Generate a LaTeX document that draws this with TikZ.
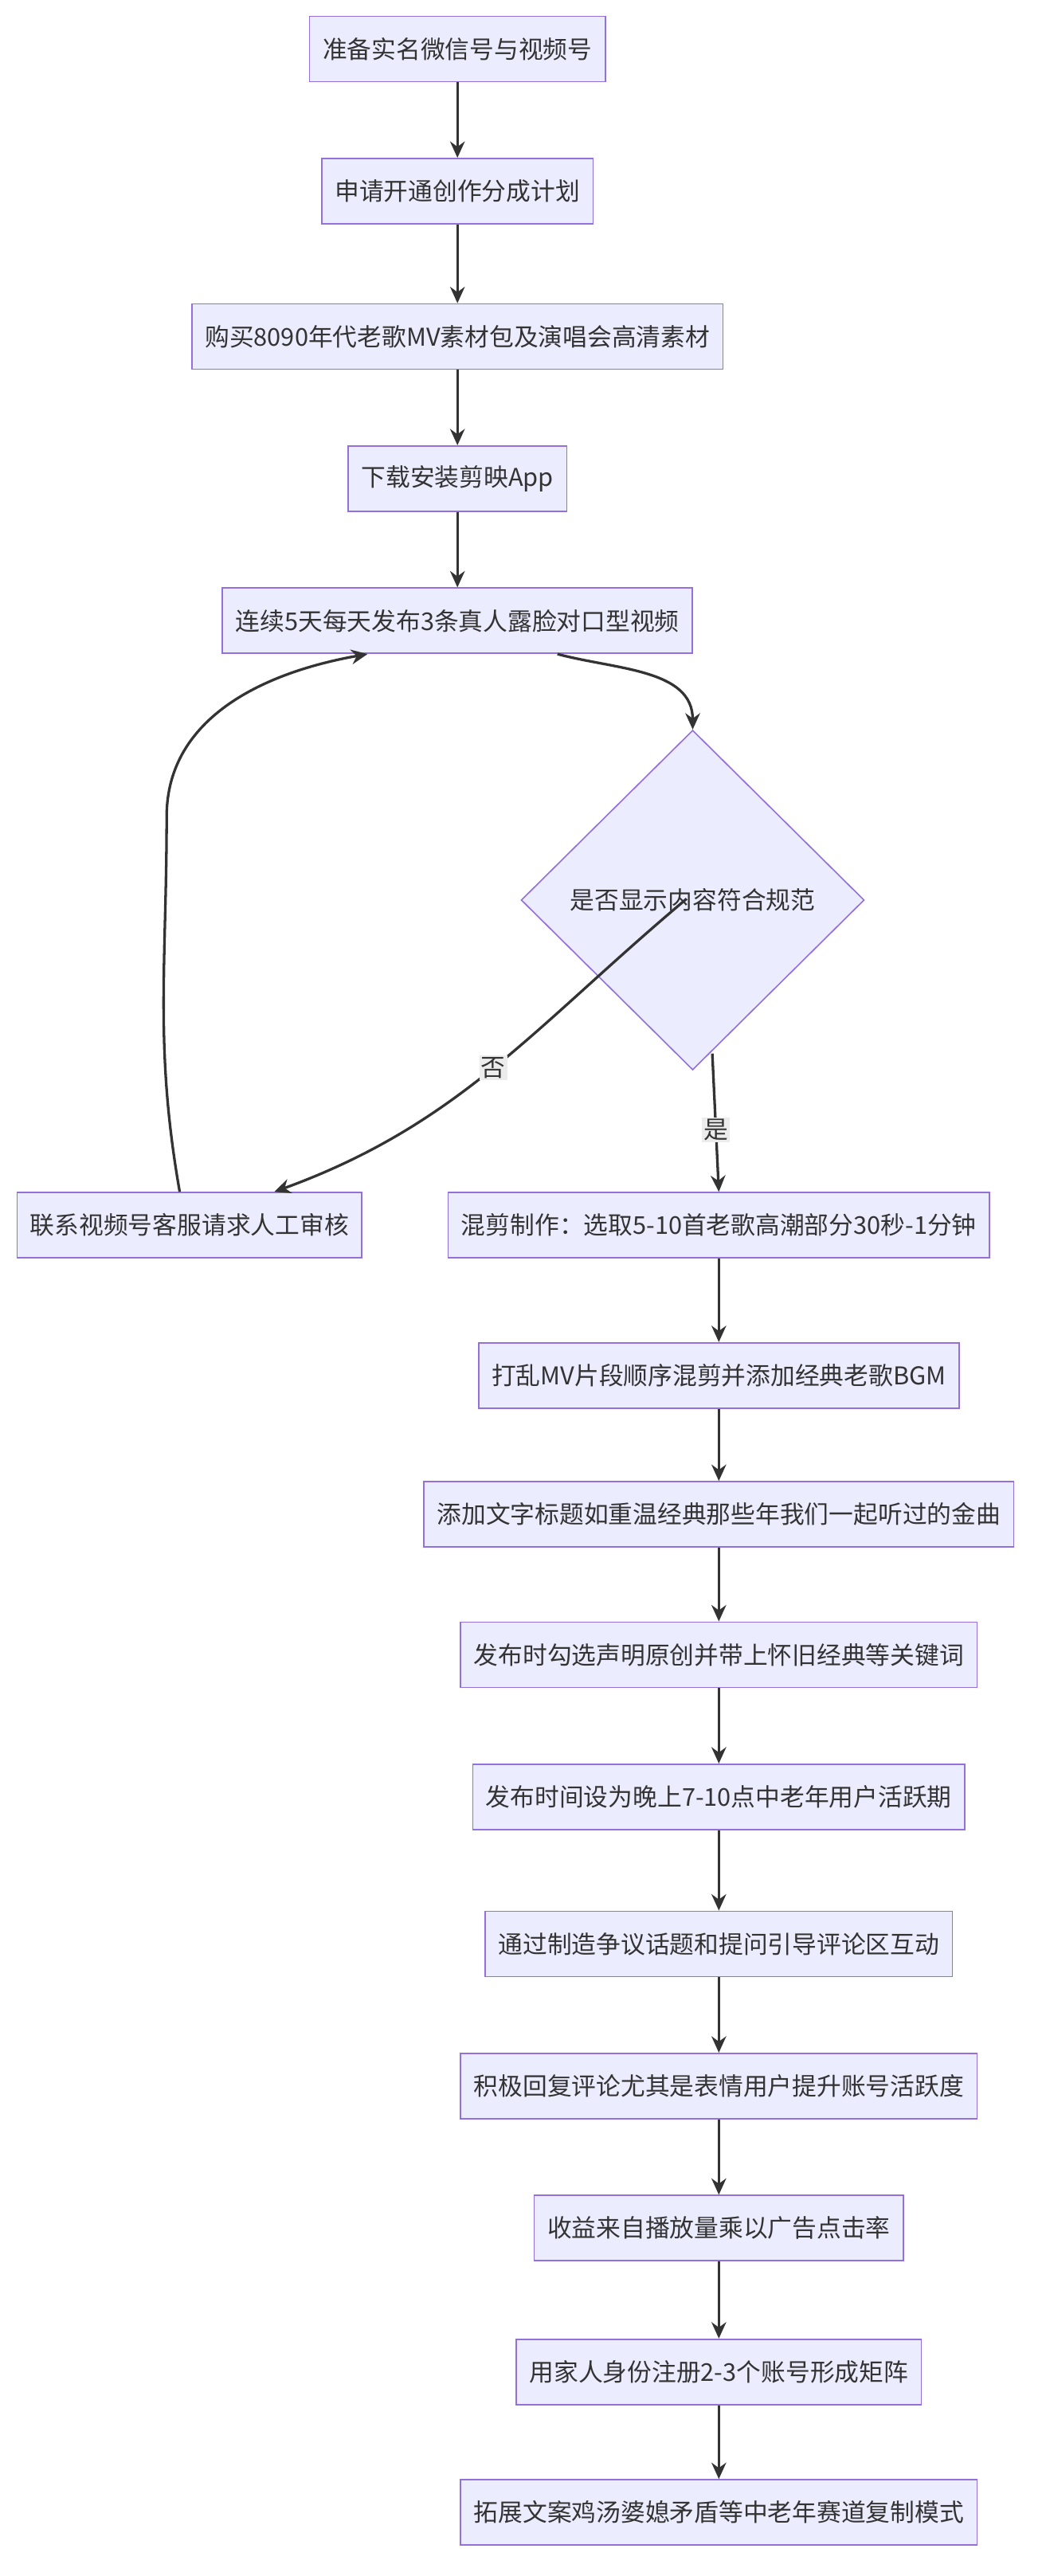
\documentclass[tikz,border=0pt]{standalone}
\usepackage{fontspec}
\setmainfont{Noto Sans CJK SC}
\usetikzlibrary{shapes.geometric,arrows.meta}
\definecolor{boxfill}{HTML}{ECECFF}
\definecolor{boxline}{HTML}{9370DB}
\definecolor{edge}{HTML}{333333}
\tikzset{
  stepbox/.style={draw=boxline,fill=boxfill,line width=0.8pt,minimum height=40pt,
    inner xsep=8pt,font=\fontsize{15}{18}\selectfont,text=edge},
  check/.style={diamond,draw=boxline,fill=boxfill,line width=0.8pt,minimum width=210pt,
    minimum height=208pt,inner sep=0pt,aspect=1,font=\fontsize{15}{18}\selectfont,text=edge},
  flow/.style={draw=edge,line width=1.6pt,-{Stealth[length=10pt,width=9pt]}},
  tag/.style={fill=gray!15,inner sep=1pt,font=\fontsize{15}{18}\selectfont,text=edge}
}
\begin{document}
\begin{tikzpicture}[x=1pt,y=-1pt]
\useasboundingbox (0,0) rectangle (640,1577);

\node[stepbox] (wechat) at (280,30) {准备实名微信号与视频号};
\node[stepbox] (plan) at (280,117) {申请开通创作分成计划};
\node[stepbox] (buy) at (280,206) {购买8090年代老歌MV素材包及演唱会高清素材};
\node[stepbox] (app) at (280,293) {下载安装剪映App};
\node[stepbox] (post) at (280,380) {连续5天每天发布3条真人露脸对口型视频};
\node[check] (ok) at (424,551) {是否显示内容符合规范};
\node[stepbox] (appeal) at (116,750) {联系视频号客服请求人工审核};
\node[stepbox] (mix) at (440,750) {混剪制作：选取5-10首老歌高潮部分30秒-1分钟};
\node[stepbox] (shuffle) at (440,842) {打乱MV片段顺序混剪并添加经典老歌BGM};
\node[stepbox] (title) at (440,927) {添加文字标题如重温经典那些年我们一起听过的金曲};
\node[stepbox] (orig) at (440,1013) {发布时勾选声明原创并带上怀旧经典等关键词};
\node[stepbox] (time) at (440,1100) {发布时间设为晚上7-10点中老年用户活跃期};
\node[stepbox] (topic) at (440,1190) {通过制造争议话题和提问引导评论区互动};
\node[stepbox] (reply) at (440,1277) {积极回复评论尤其是表情用户提升账号活跃度};
\node[stepbox] (income) at (440,1364) {收益来自播放量乘以广告点击率};
\node[stepbox] (family) at (440,1452) {用家人身份注册2-3个账号形成矩阵};
\node[stepbox] (expand) at (440,1538) {拓展文案鸡汤婆媳矛盾等中老年赛道复制模式};

\draw[flow] (wechat) -- (plan);
\draw[flow] (plan) -- (buy);
\draw[flow] (buy) -- (app);
\draw[flow] (app) -- (post);
\draw[flow] ([xshift=-83pt]post.south east) to[out=-15,in=90] (ok.north);
\draw[flow] ([xshift=49pt,yshift=53pt]ok.south west) to[out=-140,in=20]
  node[tag,pos=0.5] {否} ([xshift=-54pt]appeal.north east);
\draw[flow] ([xshift=12pt,yshift=-94pt]ok.center) -- node[tag,pos=0.55] {是} (mix.north);
\draw[flow] ([xshift=-6pt]appeal.north) to[out=100,in=-90] (102,500)
  to[out=90,in=-170] ([xshift=-55pt]post.south);
\draw[flow] (mix) -- (shuffle);
\draw[flow] (shuffle) -- (title);
\draw[flow] (title) -- (orig);
\draw[flow] (orig) -- (time);
\draw[flow] (time) -- (topic);
\draw[flow] (topic) -- (reply);
\draw[flow] (reply) -- (income);
\draw[flow] (income) -- (family);
\draw[flow] (family) -- (expand);
\end{tikzpicture}
\end{document}
